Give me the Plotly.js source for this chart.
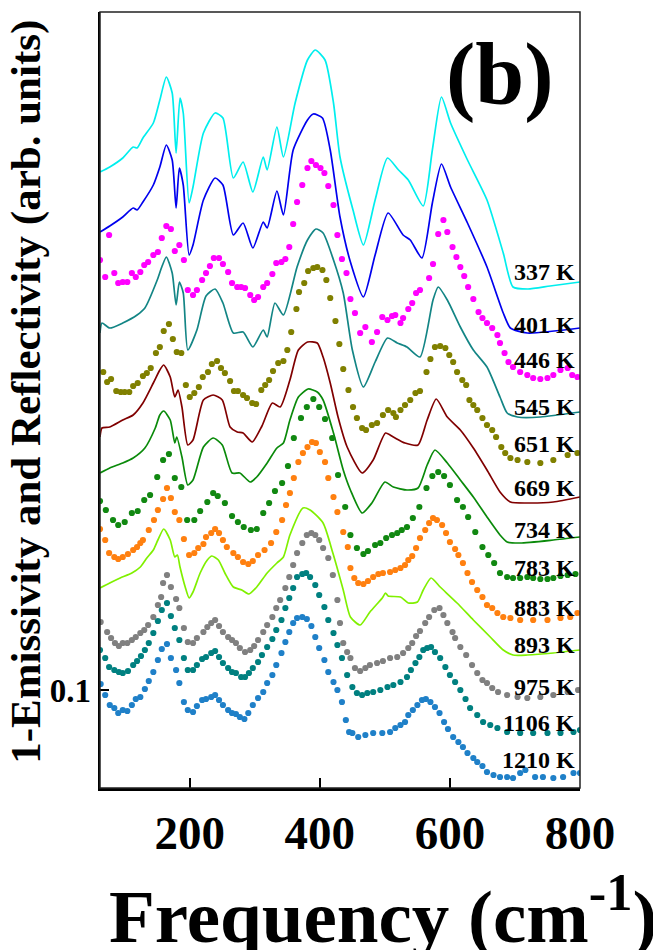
<!DOCTYPE html>
<html>
<head>
<meta charset="utf-8">
<script src="https://cdn.plot.ly/plotly-3.0.1.min.js"></script>
<style>html,body{margin:0;padding:0;background:#fff;}#chart{width:653px;height:950px;}</style>
</head>
<body>
<div id="chart"></div>
<script>
// ---- data (x: frequency in cm^-1, y: stacked arbitrary units) ----
const temps = ['337 K','401 K','446 K','545 K','651 K','669 K','734 K','783 K','883 K','893 K','975 K','1106 K','1210 K'];

const x337 = [62,77,97,113,119,128,144,154,164,173,179,185,190,199,205,221,239,251,267,282,297,313,319,334,344,362,381,393,408,421,431,451,467,485,504,521,536,559,573,587,601,627,657,682,697,720,754,800];
const y337 = [61.6,62.1,63.0,64.1,64.0,65.0,66.5,68.8,71.1,69.5,63.5,69.0,67.5,58.5,60.1,65.5,67.5,67.0,61.0,62.6,59.6,63.1,61.8,66.1,63.1,68.5,72.8,73.8,72.8,68.5,63.1,57.8,54.3,58.8,63.0,61.8,60.8,58.2,63.8,69.1,66.5,62.8,58.8,53.5,50.1,49.9,50.2,50.6];

const x401 = [62,77,97,113,119,128,144,154,164,173,179,184,190,199,205,221,239,251,267,282,297,313,319,334,344,359,381,390,404,416,431,447,467,485,505,528,539,557,573,587,601,627,657,682,693,719,800];
const y401 = [55.6,56.2,57.1,58.0,57.8,58.6,60.3,62.1,64.3,62.8,58.0,62.0,60.3,53.3,54.3,58.8,61.0,60.3,55.3,56.5,54.0,56.6,56.0,59.7,57.3,63.8,66.8,67.4,67.0,63.8,57.1,52.6,49.1,53.3,57.5,55.3,54.8,53.0,58.5,62.4,60.1,56.5,52.1,47.5,46.0,45.5,46.0];

const x446 = [62,70,76,84,90,97,104,111,117,124,130,136,144,151,157,164,171,177,184,191,197,205,211,219,225,231,237,245,251,259,265,273,279,285,293,299,305,313,319,327,333,341,347,353,359,365,373,381,387,394,401,407,413,421,427,434,441,447,454,462,470,480,488,496,504,511,516,524,528,536,542,548,554,568,574,582,590,596,604,610,616,622,628,636,644,650,657,665,673,677,684,690,697,708,719,728,739,750,759,770,781,788,796];
const y446 = [52.8,51.1,55.3,51.5,50.5,50.6,50.6,51.5,51.1,51.6,52.3,52.6,53.3,53.6,55.0,56.2,55.9,53.7,54.3,52.8,49.8,49.3,49.8,50.8,51.5,52.2,53.0,53.0,52.4,51.6,50.5,50.1,50.1,50.0,49.3,48.8,49.1,50.1,50.5,51.4,52.5,52.6,52.9,54.1,56.4,58.6,60.3,62.0,62.7,62.3,62.0,61.5,60.2,58.3,55.3,52.9,51.5,48.9,47.5,45.5,46.1,44.6,45.6,47.1,46.8,47.2,47.3,46.5,47.0,47.9,48.5,49.5,49.8,51.0,52.4,55.4,56.8,55.6,54.1,53.1,52.1,51.2,50.1,48.9,47.6,47.0,46.5,46.0,45.3,44.5,43.5,42.6,42.1,41.6,41.3,41.0,40.9,41.0,41.3,41.8,42.0,41.3,41.1];

const x545 = [62,65,77,97,119,131,150,157,164,173,179,184,190,197,211,225,239,251,267,282,297,313,319,331,344,365,381,394,405,421,436,450,467,485,504,519,534,554,574,582,596,616,636,657,677,688,704,739,800];
const y545 = [45.5,46.5,46.0,46.5,47.3,48.0,50.8,52.1,53.1,51.5,48.3,50.6,49.5,43.8,45.8,49.2,49.9,48.5,45.5,45.6,44.1,45.8,45.1,48.5,47.3,52.1,54.8,55.9,55.5,52.8,49.5,43.8,40.1,42.6,45.0,44.5,44.1,43.1,48.8,50.1,48.8,46.1,43.8,42.1,39.1,37.5,37.1,37.1,37.6];

const x651 = [67,73,79,87,94,100,107,113,120,128,134,140,148,154,160,168,174,180,187,194,200,207,214,220,228,234,242,248,254,262,268,274,282,288,296,302,310,316,322,328,336,344,350,356,364,368,376,382,390,396,404,410,416,424,430,436,444,451,457,465,471,480,488,497,505,513,517,524,531,539,547,554,564,570,577,585,593,599,605,611,619,625,630,636,642,650,657,665,671,679,685,693,704,719,739,759,781,796];
const y651 = [41.6,40.6,40.9,39.7,39.6,39.6,39.6,40.2,40.5,41.2,41.5,42.0,43.5,44.1,45.7,46.4,44.9,43.6,43.5,40.3,39.1,39.5,40.1,41.1,41.6,42.4,42.7,42.0,41.5,40.7,39.7,39.7,39.3,39.0,38.5,38.4,39.8,40.3,40.8,41.7,42.5,42.7,43.8,45.6,47.9,49.6,50.5,51.7,52.0,52.1,51.8,50.8,49.0,46.7,44.4,41.9,39.8,38.1,37.0,36.0,35.8,36.3,36.5,37.3,37.8,37.5,37.1,37.8,38.3,38.8,39.5,39.7,41.6,42.9,44.1,44.2,44.0,43.3,42.6,41.6,40.8,40.3,38.8,38.3,37.8,37.0,36.3,35.8,35.1,34.1,33.5,33.0,32.8,32.6,32.5,32.8,33.3,33.5];

const x669 = [62,65,77,97,113,128,144,154,160,170,177,182,188,197,205,221,236,250,262,273,282,296,311,327,339,354,367,381,396,405,416,428,442,465,482,501,513,531,551,565,579,596,616,636,657,677,693,719,759,800];
const y669 = [35.1,36.0,36.1,36.8,37.3,38.5,40.5,41.8,42.3,41.1,39.1,39.8,38.1,34.3,34.8,38.8,39.3,38.8,36.1,35.6,35.5,34.6,36.2,38.5,38.1,40.8,43.8,44.6,44.5,43.1,40.5,37.1,34.1,31.5,32.8,35.5,35.1,34.5,34.3,36.8,38.9,37.1,35.8,34.0,31.8,29.6,28.6,28.5,28.6,29.1];

const x734 = [62,77,97,113,131,147,154,160,170,177,180,188,197,205,221,236,250,265,277,293,303,319,334,344,354,367,382,396,405,421,436,447,465,480,500,513,534,551,565,577,596,616,636,657,677,688,708,759,800];
const y734 = [31.5,32.0,32.5,33.0,34.0,36.0,37.3,37.7,36.8,34.5,35.1,33.1,30.3,30.8,34.1,35.0,34.3,31.5,31.5,30.6,31.1,32.5,34.0,34.5,36.8,39.1,39.9,39.6,38.8,35.5,31.8,29.8,27.5,28.5,30.6,30.1,29.8,30.0,32.3,33.8,32.5,30.8,29.1,27.1,25.3,24.6,24.5,24.8,25.1];

const x783 = [62,71,82,90,100,111,120,130,139,150,159,168,177,187,196,207,216,227,236,243,254,265,274,283,294,303,313,322,331,342,351,360,371,380,390,399,408,419,428,439,447,457,467,474,485,493,502,511,519,526,534,543,553,564,573,582,591,600,611,620,628,639,650,659,668,677,688,697,708,719,728,739,750,759,770,781,793];
const y783 = [28.7,27.8,26.8,26.3,26.6,27.5,27.7,28.8,29.3,31.1,32.8,33.4,31.0,30.1,26.8,26.8,27.7,28.6,29.5,29.2,28.5,27.2,26.6,26.1,25.8,25.9,27.5,28.5,29.7,30.5,32.2,35.0,37.0,38.1,38.9,38.1,36.9,35.0,31.3,28.1,25.3,24.0,23.4,23.7,24.3,24.5,25.0,25.3,25.5,25.8,26.1,27.0,28.1,30.0,31.2,31.6,31.2,30.3,28.8,28.1,27.1,25.6,24.1,23.3,22.5,21.5,21.1,21.0,21.0,21.1,21.0,20.9,20.9,21.0,21.2,21.3,21.4];

const x883 = [62,70,76,84,90,97,105,113,119,124,128,137,145,151,159,165,171,177,184,191,199,207,213,221,225,233,239,245,251,257,267,274,282,290,297,305,315,325,333,342,348,354,360,367,374,381,388,394,400,408,413,421,427,436,443,447,453,459,467,474,482,490,497,508,516,524,531,536,542,548,554,562,568,574,580,588,594,600,608,613,620,627,634,642,650,657,665,673,682,693,708,728,750,770,785,796];
const y883 = [25.9,24.8,23.5,23.1,22.9,23.1,23.4,23.8,24.1,24.5,24.8,25.8,26.8,27.8,28.9,30.0,29.0,27.6,26.8,24.9,23.3,23.5,24.0,24.4,25.1,25.5,25.9,25.5,24.8,24.1,23.5,23.1,22.6,22.4,22.7,23.3,23.8,24.5,25.6,26.8,28.3,29.5,31.0,32.6,33.5,34.1,34.6,34.5,33.6,32.6,31.0,29.1,27.6,25.6,24.1,22.0,21.0,20.5,20.4,20.7,21.1,21.4,21.5,21.6,21.8,22.0,22.3,22.8,23.2,24.0,25.0,25.8,26.5,27.0,26.8,26.3,25.5,24.6,23.9,23.3,22.5,21.5,20.6,19.8,19.1,18.3,18.0,17.5,17.1,17.0,16.8,16.8,16.8,17.0,17.1,17.5];

const x893 = [62,77,93,111,124,134,144,151,160,170,177,181,185,193,199,205,216,227,234,244,254,267,280,291,303,319,334,344,354,374,385,405,420,436,447,462,477,496,501,505,524,536,550,559,571,585,611,636,662,682,697,719,759,800];
const y893 = [20.0,20.5,21.0,21.5,22.1,23.0,23.8,24.8,25.9,24.8,23.1,23.3,22.1,20.1,19.0,19.6,21.5,22.8,23.2,22.8,21.5,20.1,19.8,19.4,20.1,21.5,22.5,23.1,25.3,28.0,27.8,26.5,23.5,19.8,17.1,16.3,17.6,19.0,19.5,19.2,19.1,18.5,18.6,19.8,21.0,20.1,18.5,16.8,15.1,13.8,13.3,13.3,13.5,13.8];

const x975 = [63,73,79,85,91,97,104,111,117,124,130,136,144,151,156,159,165,171,179,184,191,197,205,211,221,227,233,239,245,251,259,265,271,277,285,293,299,305,313,319,327,333,339,347,353,359,365,373,380,387,393,399,405,413,420,427,431,436,442,447,454,462,470,477,488,497,508,519,528,536,542,548,554,562,568,576,584,590,596,604,608,616,625,634,642,650,657,665,674,688,704,719,739,759,781,797];
const y975 = [16.6,15.6,15.0,14.5,14.2,14.5,14.5,14.8,15.1,15.5,15.8,16.3,17.1,18.3,19.1,20.5,21.3,20.1,18.9,18.0,16.0,14.6,14.5,15.0,15.6,16.1,16.5,16.8,16.2,15.6,15.1,14.8,14.5,14.0,13.6,13.8,14.2,14.8,15.6,16.3,17.1,18.0,18.8,20.0,21.1,22.3,23.5,24.5,25.3,25.5,25.3,24.8,24.0,23.0,21.3,18.8,16.5,14.5,13.6,13.0,12.0,11.7,12.0,12.3,12.5,12.7,13.0,13.1,13.5,14.0,14.5,15.2,15.7,16.5,17.1,17.8,18.0,17.3,16.5,15.6,15.0,14.1,13.3,12.3,11.5,10.8,10.5,10.0,9.6,9.3,9.1,9.0,9.1,9.3,9.6,9.8];

const x1106 = [62,70,76,84,91,97,105,113,119,125,131,137,144,151,157,165,171,177,184,191,197,205,211,219,225,233,239,245,251,259,265,271,279,285,291,297,305,311,319,327,333,341,347,353,359,365,373,379,385,393,399,407,413,421,427,434,442,450,457,465,473,482,493,504,513,524,534,540,547,553,559,565,571,577,585,593,600,608,616,624,631,642,651,662,673,688,708,728,750,770,790,800];
const y1106 = [13.8,13.0,12.1,11.8,11.6,11.5,11.7,12.3,12.7,13.2,13.8,14.5,15.5,16.7,17.8,18.5,17.2,16.0,14.8,13.0,11.8,11.8,12.3,12.9,13.1,13.5,13.7,13.1,12.5,12.0,11.6,11.5,11.1,11.1,11.5,12.0,12.6,13.3,14.1,14.9,15.8,16.8,18.0,19.0,20.0,21.1,21.4,21.5,21.1,20.3,19.3,18.1,16.8,15.5,14.3,13.0,11.3,10.1,9.5,9.3,9.5,9.6,9.8,10.1,10.3,10.6,11.1,11.8,12.5,13.1,13.8,14.0,14.1,13.6,13.0,12.1,11.3,10.6,9.8,8.9,8.0,7.3,6.6,6.3,6.0,5.6,5.5,5.5,5.5,5.5,5.6,5.8];

const x1210 = [63,70,77,84,90,97,104,111,117,124,131,137,144,151,157,165,171,179,184,191,197,205,211,219,225,233,239,245,251,259,265,271,277,284,290,297,305,313,319,327,333,341,347,353,359,365,373,380,387,393,399,407,413,421,427,434,440,445,450,459,470,482,496,508,516,524,531,536,543,550,557,563,570,577,584,591,597,605,613,620,627,636,642,650,657,667,677,688,697,708,716,731,743,759,774,790,800];
const y1210 = [10.4,9.3,8.3,8.0,7.5,7.8,7.7,8.3,8.9,9.1,9.9,10.7,11.6,12.8,13.9,14.4,13.0,11.8,10.5,8.6,7.8,7.6,8.2,8.8,8.9,9.1,9.3,8.8,8.3,7.8,7.5,7.4,7.1,6.9,7.5,8.3,9.0,9.6,10.5,11.3,12.3,13.5,14.6,15.6,16.5,17.0,17.1,16.9,16.2,15.1,14.0,12.8,11.6,10.6,9.8,8.6,6.8,5.6,5.5,5.1,5.3,5.5,5.5,5.6,6.0,6.3,6.6,7.3,7.8,8.3,8.8,8.9,8.6,8.1,7.5,6.6,5.9,5.1,4.6,4.1,3.5,3.0,2.6,2.2,1.6,1.3,1.1,1.1,1.0,1.5,1.8,1.1,1.1,1.0,1.1,1.5,1.5];

const xTickVals = [200, 400, 600, 800];
const xTickText = ['200', '400', '600', '800'];
const yTickVals = [9.8];
const yTickText = ['0.1'];

// ---- styling (separate from data) ----
const xs = [x337,x401,x446,x545,x651,x669,x734,x783,x883,x893,x975,x1106,x1210];
const ys = [y337,y401,y446,y545,y651,y669,y734,y783,y883,y893,y975,y1106,y1210];
const colors = ['#00eeee','#0000ee','#ff00ff','#138585','#808000','#800000','#0a8a0a','#118811','#ff8010','#80f000','#808080','#008080','#1f80c8'];
const kinds  = ['line','line','dot','line','dot','line','line','dot','dot','line','dot','dot','dot'];
const labelY = [51.6,46.3,42.8,38.1,34.4,30.0,25.8,22.0,18.0,14.3,10.1,6.5,2.8];

const SERIF = 'Liberation Serif, Times New Roman, serif';

const traces = xs.map((xv, i) => {
  const t = { x: xv, y: ys[i], name: temps[i], type: 'scatter', showlegend: false, hoverinfo: 'skip', cliponaxis: true };
  if (kinds[i] === 'line') {
    t.mode = 'lines';
    t.line = { color: colors[i], width: 1.7, shape: 'spline', smoothing: 0.6 };
  } else {
    t.mode = 'markers';
    t.marker = { color: colors[i], size: 6.2, line: { width: 0 } };
  }
  return t;
});

const annotations = temps.map((lab, i) => ({
  x: 800, y: labelY[i], xref: 'x', yref: 'y', xanchor: 'right', yanchor: 'middle', xshift: -3,
  text: '<b>' + lab + '</b>', showarrow: false,
  font: { family: SERIF, size: 24, color: '#000' }
}));

annotations.push({
  xref: 'paper', yref: 'paper', x: 0.833, y: 0.919, xanchor: 'center', yanchor: 'middle',
  text: '<b>(b)</b>', showarrow: false, font: { family: SERIF, size: 88, color: '#000' }
});
annotations.push({
  xref: 'paper', yref: 'paper', x: -0.153, y: 0.51, xanchor: 'center', yanchor: 'middle', textangle: -90,
  text: '<b>1-Emissivity and Reflectivity (arb. units)</b>', showarrow: false,
  font: { family: SERIF, size: 43, color: '#000' }
});
annotations.push({
  xref: 'paper', yref: 'paper', x: 0.0146, y: -0.158, xanchor: 'left', yanchor: 'middle',
  text: '<b>Frequency (cm<sup>-1</sup>)</b>', showarrow: false,
  font: { family: SERIF, size: 75, color: '#000' }
});

const layout = {
  width: 653, height: 950,
  margin: { l: 100, r: 73, t: 12, b: 162, pad: 0 },
  paper_bgcolor: '#fff', plot_bgcolor: '#fff',
  showlegend: false,
  xaxis: {
    range: [62, 800], showgrid: false, zeroline: false,
    showline: true, linecolor: '#000', linewidth: 2.5,
    ticks: 'inside', ticklen: 10, tickwidth: 2, tickcolor: '#000',
    tickvals: xTickVals, ticktext: xTickText, ticklabelstandoff: 2,
    tickfont: { family: SERIF, size: 47, color: '#000', weight: 'bold' }
  },
  yaxis: {
    range: [0, 77.6], showgrid: false, zeroline: false,
    showline: true, linecolor: '#000', linewidth: 2.5,
    ticks: 'inside', ticklen: 9, tickwidth: 2, tickcolor: '#000',
    tickvals: yTickVals, ticktext: yTickText, ticklabelstandoff: 0,
    tickfont: { family: SERIF, size: 33, color: '#000', weight: 'bold' }
  },
  shapes: [{
    type: 'rect', xref: 'paper', yref: 'paper', x0: 0, x1: 1, y0: 0, y1: 1,
    line: { color: '#222', width: 1.5 }, fillcolor: 'rgba(0,0,0,0)', layer: 'above'
  }],
  annotations: annotations
};

Plotly.newPlot('chart', traces, layout, { displayModeBar: false, staticPlot: true });
</script>
</body>
</html>
